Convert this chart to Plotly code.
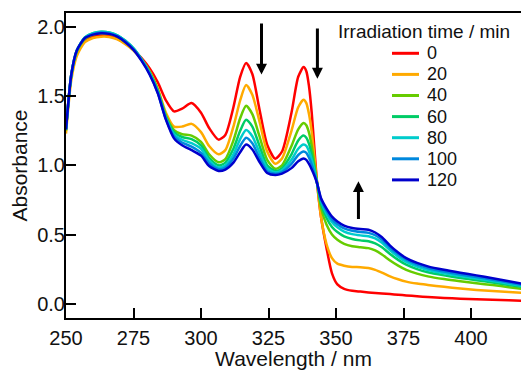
import plotly.graph_objects as go

wavelength = [250, 252, 254, 257, 260, 263, 266, 269, 272, 275,
              278, 281, 284, 287, 290, 293, 296.5, 300, 303, 306.5,
              309, 312, 314.5, 316.7, 319, 321.5, 324.5, 327.5, 330, 333.5,
              336, 338, 339, 340, 341, 342, 343, 344.5, 346.5, 348.5,
              350.5, 353, 356, 359, 362, 364.5, 367, 370, 373, 376,
              380, 384, 390, 396, 402, 408, 414, 420]

abs_0 = [1.27, 1.66, 1.82, 1.905, 1.93, 1.938, 1.935, 1.915, 1.88, 1.835,
         1.775, 1.70, 1.60, 1.47, 1.39, 1.41, 1.45, 1.38, 1.27, 1.186,
         1.22, 1.42, 1.64, 1.74, 1.66, 1.42, 1.15, 1.048, 1.10, 1.38,
         1.64, 1.71, 1.68, 1.57, 1.38, 1.12, 0.87, 0.62, 0.40, 0.22,
         0.14, 0.108, 0.094, 0.088, 0.082, 0.078, 0.074, 0.07, 0.065, 0.06,
         0.054, 0.048, 0.042, 0.037, 0.033, 0.029, 0.025, 0.021]
abs_20 = [1.23, 1.62, 1.79, 1.89, 1.92, 1.93, 1.928, 1.91, 1.875, 1.83,
          1.765, 1.68, 1.555, 1.38, 1.28, 1.28, 1.30, 1.24, 1.14, 1.08,
          1.11, 1.28, 1.47, 1.58, 1.51, 1.33, 1.10, 1.012, 1.05, 1.25,
          1.42, 1.475, 1.45, 1.37, 1.24, 1.06, 0.87, 0.62, 0.43, 0.33,
          0.29, 0.275, 0.266, 0.264, 0.258, 0.245, 0.225, 0.198, 0.177, 0.16,
          0.146, 0.136, 0.122, 0.11, 0.10, 0.092, 0.085, 0.078]
abs_40 = [1.25, 1.65, 1.82, 1.915, 1.945, 1.955, 1.95, 1.93, 1.89, 1.84,
          1.765, 1.675, 1.545, 1.36, 1.255, 1.225, 1.215, 1.17, 1.08, 1.022,
          1.045, 1.18, 1.34, 1.43, 1.37, 1.22, 1.04, 0.975, 1.0, 1.14,
          1.26, 1.306, 1.29, 1.235, 1.14, 1.01, 0.87, 0.69, 0.57, 0.50,
          0.462, 0.433, 0.416, 0.409, 0.402, 0.385, 0.356, 0.313, 0.276, 0.245,
          0.218, 0.198, 0.178, 0.162, 0.148, 0.135, 0.12, 0.105]
abs_60 = [1.26, 1.66, 1.83, 1.925, 1.955, 1.965, 1.96, 1.94, 1.90, 1.845,
          1.765, 1.67, 1.54, 1.35, 1.24, 1.205, 1.19, 1.145, 1.055, 1.0,
          1.02, 1.12, 1.25, 1.33, 1.28, 1.15, 1.0, 0.96, 0.98, 1.08,
          1.18, 1.215, 1.20, 1.155, 1.08, 0.98, 0.87, 0.72, 0.62, 0.555,
          0.518, 0.487, 0.468, 0.458, 0.452, 0.437, 0.408, 0.36, 0.317, 0.282,
          0.25, 0.227, 0.205, 0.186, 0.17, 0.154, 0.136, 0.118]
abs_80 = [1.26, 1.66, 1.83, 1.925, 1.955, 1.965, 1.96, 1.94, 1.90, 1.845,
          1.765, 1.665, 1.53, 1.34, 1.225, 1.185, 1.16, 1.12, 1.035, 0.985,
          1.0, 1.08, 1.19, 1.255, 1.21, 1.10, 0.98, 0.95, 0.965, 1.04,
          1.12, 1.15, 1.14, 1.10, 1.04, 0.96, 0.87, 0.74, 0.65, 0.59,
          0.553, 0.522, 0.503, 0.494, 0.488, 0.472, 0.44, 0.387, 0.34, 0.302,
          0.268, 0.244, 0.22, 0.20, 0.182, 0.164, 0.145, 0.125]
abs_100 = [1.26, 1.66, 1.83, 1.92, 1.95, 1.96, 1.955, 1.935, 1.895, 1.84,
           1.76, 1.66, 1.525, 1.335, 1.21, 1.165, 1.135, 1.09, 1.015, 0.972,
           0.985, 1.05, 1.14, 1.20, 1.16, 1.06, 0.96, 0.94, 0.952, 1.01,
           1.075, 1.10, 1.09, 1.055, 1.005, 0.94, 0.87, 0.75, 0.67, 0.61,
           0.575, 0.545, 0.527, 0.518, 0.512, 0.495, 0.462, 0.405, 0.357, 0.318,
           0.283, 0.258, 0.233, 0.212, 0.193, 0.174, 0.154, 0.132]
abs_120 = [1.26, 1.66, 1.83, 1.92, 1.945, 1.955, 1.95, 1.93, 1.89, 1.835,
           1.755, 1.655, 1.52, 1.33, 1.195, 1.145, 1.11, 1.07, 0.995, 0.96,
           0.97, 1.02, 1.095, 1.15, 1.115, 1.03, 0.945, 0.93, 0.94, 0.98,
           1.03, 1.05, 1.04, 1.01, 0.97, 0.925, 0.87, 0.76, 0.687, 0.63,
           0.595, 0.565, 0.548, 0.54, 0.535, 0.515, 0.48, 0.42, 0.37, 0.33,
           0.295, 0.27, 0.245, 0.224, 0.205, 0.185, 0.163, 0.14]

times = ["0", "20", "40", "60", "80", "100", "120"]
series = [abs_0, abs_20, abs_40, abs_60, abs_80, abs_100, abs_120]
colors = ["#FF0000", "#FFAA00", "#66CC00", "#00CC66", "#00CCCC", "#0088DD", "#0000CC"]

x_ticks = [250, 275, 300, 325, 350, 375, 400]
y_ticks = [0.0, 0.5, 1.0, 1.5, 2.0]
legend_title = "Irradiation time / min"

# arrows: (wavelength, tip absorbance, tail absorbance)
arrows = [(322.4, 1.656, 2.036), (343.1, 1.626, 2.0), (358.3, 0.886, 0.602)]

FONT = "Liberation Sans, Arial, sans-serif"
TXT = "#111111"

fig = go.Figure()
for t, ys, c in zip(times, series, colors):
    fig.add_trace(go.Scatter(x=wavelength, y=ys, mode="lines", name=t,
                             line=dict(color=c, width=2.5, shape="spline", smoothing=0.7),
                             showlegend=False))

W, H = 521, 370
L, R, T, B = 66, 0, 13, 52
pw, ph = W - L - R, H - T - B

def px(xw):
    return (xw - L) / pw

def py(yw):
    return (H - B - yw) / ph

annotations = []
shapes = []
annotations.append(dict(x=px(336), y=py(31.5), xref="paper", yref="paper", text=legend_title,
                        showarrow=False, xanchor="left", yanchor="middle",
                        font=dict(family=FONT, size=19, color=TXT)))
for i, (t, c) in enumerate(zip(times, colors)):
    yc = 53.3 + i * 21.1
    shapes.append(dict(type="line", xref="paper", yref="paper", x0=px(392), x1=px(419),
                       y0=py(yc), y1=py(yc), line=dict(color=c, width=3)))
    annotations.append(dict(x=px(425), y=py(yc), xref="paper", yref="paper", text=t,
                            showarrow=False, xanchor="left", yanchor="middle",
                            font=dict(family=FONT, size=18, color=TXT)))

for (xw, ytip, ytail) in arrows:
    annotations.append(dict(x=xw, y=ytip, ax=xw, ay=ytail, xref="x", yref="y", axref="x", ayref="y",
                            text="", showarrow=True, arrowhead=2, arrowsize=0.73, arrowwidth=3,
                            arrowcolor="#000000", standoff=0, startstandoff=0))

fig.update_layout(
    width=W, height=H, margin=dict(l=L, r=R, t=T, b=B, pad=0, autoexpand=False),
    paper_bgcolor="white", plot_bgcolor="white",
    font=dict(family=FONT, color=TXT),
    annotations=annotations, shapes=shapes,
    xaxis=dict(range=[250, 418.5], tickvals=x_ticks, ticktext=[str(v) for v in x_ticks],
               ticks="inside", ticklen=10, tickwidth=2, tickcolor="#000",
               showline=True, linewidth=2, linecolor="#000", mirror=True,
               showgrid=False, zeroline=False, ticklabelstandoff=1, automargin=False,
               tickfont=dict(family=FONT, size=20, color=TXT),
               title=dict(text="Wavelength / nm", font=dict(family=FONT, size=21, color=TXT), standoff=8)),
    yaxis=dict(range=[-0.103, 2.101], tickvals=y_ticks, ticktext=[f"{v:.1f}" for v in y_ticks],
               ticks="inside", ticklen=10, tickwidth=2, tickcolor="#000",
               showline=True, linewidth=2, linecolor="#000",
               showgrid=False, zeroline=False, ticklabelstandoff=-5, automargin=False,
               tickfont=dict(family=FONT, size=20, color=TXT),
               title=dict(text="Absorbance", font=dict(family=FONT, size=21, color=TXT), standoff=4)),
)

fig.write_html(
    "out.html",
    config={"displayModeBar": False},
    post_script=("document.documentElement.style.margin='0';"
                 "document.body.style.margin='0';"
                 "document.documentElement.style.overflow='hidden';"
                 "document.body.style.overflow='hidden';"),
)
